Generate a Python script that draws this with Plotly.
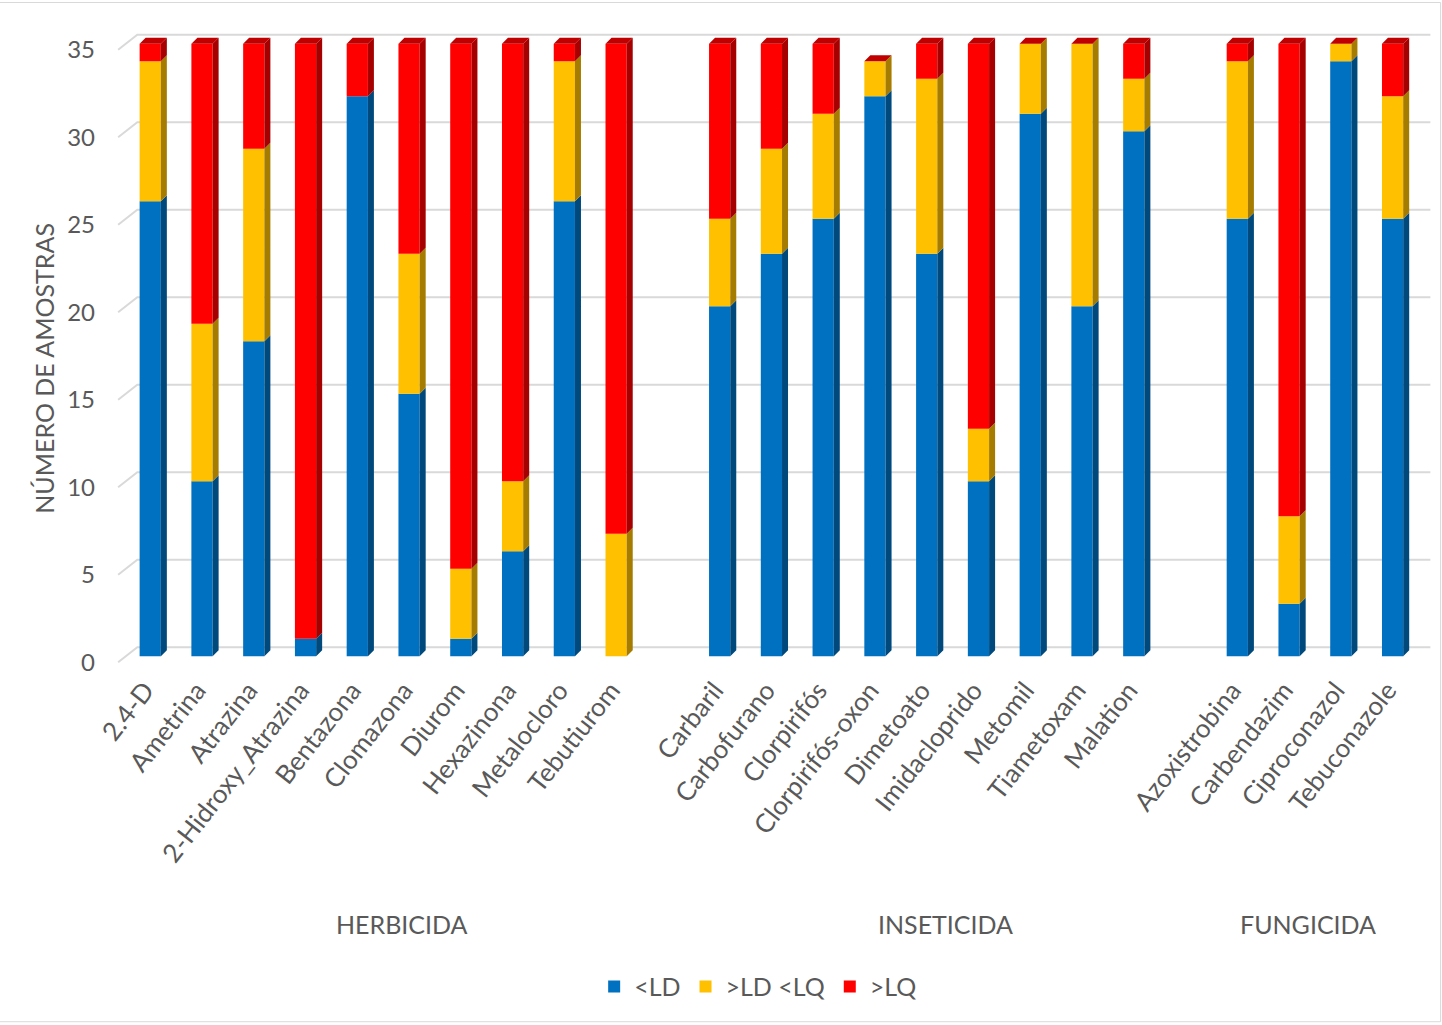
import plotly.graph_objects as go

# Pesticide categories and sample counts per detection class
herbicidas = ["2.4-D", "Ametrina", "Atrazina", "2-Hidroxy_Atrazina", "Bentazona",
              "Clomazona", "Diurom", "Hexazinona", "Metalocloro", "Tebutiurom"]
inseticidas = ["Carbaril", "Carbofurano", "Clorpirifós", "Clorpirifós-oxon", "Dimetoato",
               "Imidacloprido", "Metomil", "Tiametoxam", "Malation"]
fungicidas = ["Azoxistrobina", "Carbendazim", "Ciproconazol", "Tebuconazole"]

group_names = ["HERBICIDA", "INSETICIDA", "FUNGICIDA"]

# <LD
abaixo_ld = [26, 10, 18, 1, 32, 15, 1, 6, 26, 0,
             20, 23, 25, 32, 23, 10, 31, 20, 30,
             25, 3, 34, 25]
# >LD <LQ
entre_ld_lq = [8, 9, 11, 0, 0, 8, 4, 4, 8, 7,
               5, 6, 6, 2, 10, 3, 4, 15, 3,
               9, 5, 1, 7]
# >LQ
acima_lq = [1, 16, 6, 34, 3, 12, 30, 25, 1, 28,
            10, 6, 4, 0, 2, 22, 0, 0, 2,
            1, 27, 0, 3]

series_names = ["<LD", ">LD <LQ", ">LQ"]
y_ticks = [0, 5, 10, 15, 20, 25, 30, 35]
y_title = "NÚMERO DE AMOSTRAS"

# Colours: front face, side face
front_colors = ["#0070C0", "#FFC000", "#FF0000"]
side_colors = ["#00497D", "#A67C00", "#A60000"]
top_color = "#C00000"
grid_color = "#D9D9D9"

# x slots: one empty slot between groups
groups = [herbicidas, inseticidas, fungicidas]
labels, xpos, group_spans = [], [], []
slot = 0
for g in groups:
    start = slot
    for name in g:
        labels.append(name)
        xpos.append(slot)
        slot += 1
    group_spans.append((start, slot))
    slot += 1

# group caption positions (the last group has no trailing gap)
group_centers = []
for k, (a, b) in enumerate(group_spans):
    end = b if k < len(group_spans) - 1 else b - 1
    group_centers.append((a + end) / 2 - 0.13)

series = [abaixo_ld, entre_ld_lq, acima_lq]

# pseudo-3D geometry (data units)
W = 0.41      # bar front width
DX = 0.116    # side depth along x
DY = 0.34     # side depth along y

fig = go.Figure()

# cumulative bases for stacking
bases = []
running = [0] * len(labels)
for vals in series:
    bases.append(list(running))
    running = [r + v for r, v in zip(running, vals)]
totals = running

# front faces
for name, vals, base, col in zip(series_names, series, bases, front_colors):
    fig.add_trace(go.Bar(x=xpos, y=vals, base=base, width=W, name=name,
                         marker=dict(color=col, line=dict(width=0))))

# side faces
for vals, base, col in zip(series, bases, side_colors):
    sx, sy = [], []
    for x, v, b in zip(xpos, vals, base):
        if v <= 0:
            continue
        xr = x + W / 2
        sx += [xr, xr + DX, xr + DX, xr, xr, None]
        sy += [b, b + DY, b + v + DY, b + v, b, None]
    fig.add_trace(go.Scatter(x=sx, y=sy, mode="lines", fill="toself", fillcolor=col,
                             line=dict(width=0, color=col), hoverinfo="skip", showlegend=False))

# top faces
tx, ty = [], []
for x, t in zip(xpos, totals):
    xl, xr = x - W / 2, x + W / 2
    tx += [xl, xl + DX, xr + DX, xr, xl, None]
    ty += [t, t + DY, t + DY, t, t, None]
fig.add_trace(go.Scatter(x=tx, y=ty, mode="lines", fill="toself", fillcolor=top_color,
                         line=dict(width=0, color=top_color), hoverinfo="skip", showlegend=False))

# back-wall gridlines with the left-side diagonal, behind the bars
x_left, x_wall, x_right = -0.62, -0.25, 24.73
shapes = []
for v in y_ticks:
    shapes.append(dict(type="path", xref="x", yref="y", layer="below",
                       path=f"M {x_left},{v - 0.34} L {x_wall},{v + 0.51} L {x_right},{v + 0.51}",
                       line=dict(color=grid_color, width=2)))
shapes.append(dict(type="rect", xref="paper", yref="paper", x0=-0.09, x1=1.005,
                   y0=-0.56, y1=1.04, line=dict(color=grid_color, width=1), layer="below"))

font_family = "Lato, 'Open Sans', sans-serif"
text_color = "#595959"
fsize = 25

for name, cx in zip(group_names, group_centers):
    fig.add_annotation(x=cx, y=0, xref="x", yref="paper", yanchor="middle",
                       yshift=-(925 - 666), text=name, showarrow=False,
                       font=dict(family=font_family, size=fsize, color=text_color))

# vertical axis caption
fig.add_annotation(x=-0.0526, y=0.466, xref="paper", yref="paper", xanchor="center",
                   yanchor="middle", text=y_title, textangle=-90, showarrow=False,
                   font=dict(family=font_family, size=fsize, color=text_color))

fig.update_layout(
    width=1442, height=1025,
    margin=dict(l=114, r=8, t=28, b=360),
    plot_bgcolor="white", paper_bgcolor="white",
    barmode="overlay",
    font=dict(family=font_family, size=fsize, color=text_color),
    legend=dict(orientation="h", x=0.488, xanchor="center", y=-0.505, yanchor="middle",
                font=dict(size=fsize, color=text_color), itemwidth=30,
                traceorder="normal"),
    xaxis=dict(range=[-0.7, 24.8], tickvals=xpos, ticktext=labels, tickangle=-52,
               showgrid=False, zeroline=False, showline=False, ticks="",
               ticklabelstandoff=4, ticklabelshift=-5,
               tickfont=dict(size=26, color=text_color)),
    yaxis=dict(range=[-0.5, 35.9], tickvals=[v - 0.34 for v in y_ticks],
               ticktext=[str(v) for v in y_ticks], showgrid=False, zeroline=False,
               showline=False, ticks="", ticklabelstandoff=18,
               tickfont=dict(size=24, color=text_color)),
    shapes=shapes,
)

fig.write_html("out.html")
